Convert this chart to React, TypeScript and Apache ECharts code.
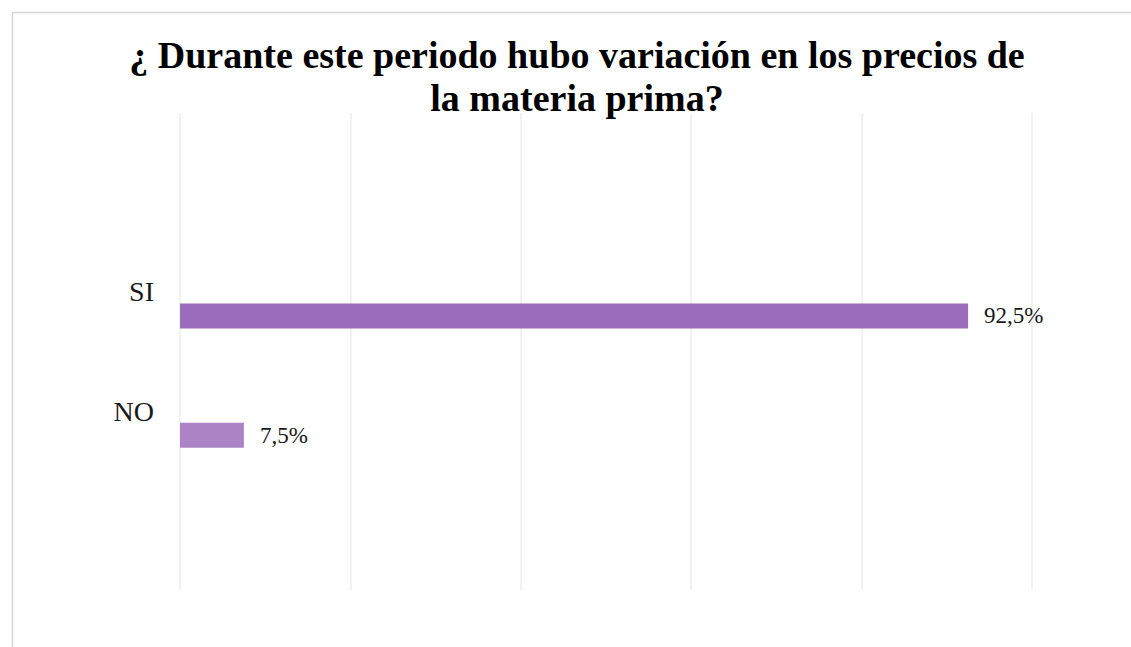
import React, { useEffect, useRef } from "react";
import * as echarts from "echarts";

const titleLines = [
  "¿ Durante este periodo hubo variación en los precios de",
  "la materia prima?",
];
// bottom to top, blank categories keep Excel's spacing
const categories = ["", "NO", "SI", ""];
const values: (number | string)[] = ["-", 7.5, 92.5, "-"];
const barColors = ["#ac84c6", "#ac84c6", "#9b6cbb", "#9b6cbb"];
const xTicks = { min: 0, max: 100, interval: 20 };

const fmt = (v: number) => v.toFixed(1).replace(".", ",") + "%";

export default function App() {
  const ref = useRef<HTMLDivElement>(null);
  useEffect(() => {
    if (!ref.current) return;
    const chart = echarts.init(ref.current, null, { renderer: "svg" });
    const font = "Liberation Serif";
    const labelData = values
      .map((v, i) => (typeof v === "number" ? [v, i] : null))
      .filter((d) => d !== null);
    chart.setOption({
      animation: false,
      backgroundColor: "#ffffff",
      textStyle: { fontFamily: font },
      graphic: [
        {
          type: "rect",
          shape: { x: 12.5, y: 12.5, width: 1200, height: 700 },
          style: { fill: "none", stroke: "#d9d5d5", lineWidth: 1.5 },
          silent: true,
          z: -1,
        },
        ...titleLines.map((line, i) => ({
          type: "text",
          x: 577,
          y: 36 + i * 43,
          silent: true,
          style: {
            text: line,
            font: "bold 38px " + font,
            fontFamily: font,
            fontWeight: "bold",
            fontSize: 38,
            fill: "#000000",
            align: "center",
            verticalAlign: "top",
          },
        })),
      ],
      grid: { left: 180, right: 99, top: 113, bottom: 57 },
      xAxis: {
        type: "value",
        min: xTicks.min,
        max: xTicks.max,
        interval: xTicks.interval,
        axisLabel: { show: false },
        axisLine: { show: false },
        axisTick: { show: false },
        splitLine: { lineStyle: { color: "#eeeeee", width: 1.5 } },
      },
      yAxis: {
        type: "category",
        data: categories,
        axisLine: { show: false },
        axisTick: { show: false },
        axisLabel: {
          fontFamily: font,
          fontSize: 28,
          color: "#1a1a1a",
          margin: 26,
        },
      },
      series: [
        {
          type: "bar",
          name: "dummy",
          data: categories.map(() => "-"),
          barWidth: 25,
          barGap: "92%",
        },
        {
          type: "bar",
          name: "valor",
          data: values.map((v, i) => ({
            value: v,
            itemStyle: { color: barColors[i] },
          })),
          barWidth: 25,
          barGap: "92%",
        },
        {
          type: "custom",
          name: "etiquetas",
          silent: true,
          encode: { x: 0, y: 1 },
          data: labelData,
          renderItem: (params: any, api: any) => {
            const v = api.value(0);
            const c = api.value(1);
            const pt = api.coord([v, c]);
            return {
              type: "text",
              x: pt[0] + 16,
              y: pt[1] + 24,
              style: {
                text: fmt(v),
                font: "23px " + font,
                fontFamily: font,
                fontSize: 23,
                fill: "#1a1a1a",
                align: "left",
                verticalAlign: "middle",
              },
            };
          },
        },
      ],
    });
    return () => chart.dispose();
  }, []);
  return (
    <div
      ref={ref}
      style={{ position: "fixed", left: 0, top: 0, width: 1131, height: 647 }}
    />
  );
}
